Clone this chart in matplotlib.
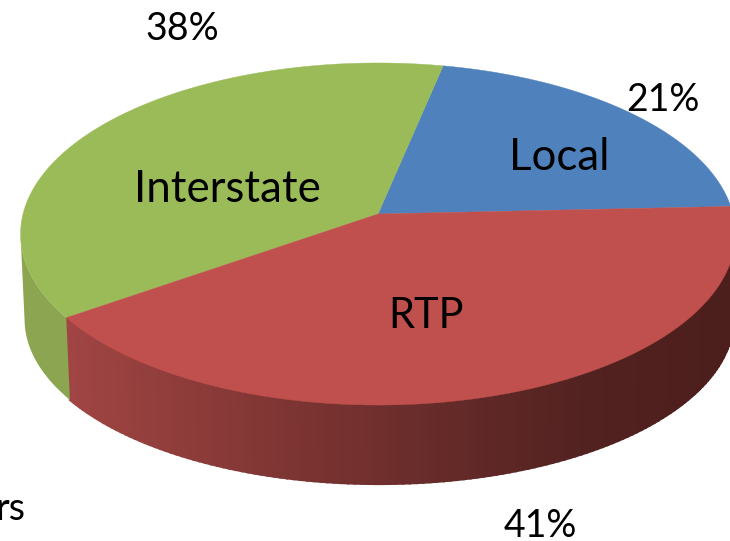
import numpy as np
import matplotlib
matplotlib.use("Agg")
import matplotlib.pyplot as plt
from matplotlib.colors import LinearSegmentedColormap

# pie data
names = ["Local", "Interstate", "RTP"]
shares = [21, 38, 41]
colors = ["#4f81bd", "#9bbb59", "#c0504d"]
side_green = "#8ba550"

plt.rcParams["font.family"] = ["Lato", "DejaVu Sans"]

cx, cy = 378, 214
rx, ry = 355, 168.7
k = 0.117
start = 2.6
cx2, cy2 = 379, 300   # bottom plane
rx2, ry2 = 352, 162.5


def top(t):
    t = np.radians(t)
    d = 1 + k * np.sin(t)
    return cx + rx * np.cos(t) / d, cy - ry * np.sin(t) / d


def bottom(t):
    t = np.radians(t)
    d = 1 + k * np.sin(t)
    return cx2 + rx2 * np.cos(t) / d, cy2 - ry2 * np.sin(t) / d


fig = plt.figure(figsize=(7.3, 5.41), dpi=100)
ax = fig.add_axes([0, 0, 1, 1])
ax.set_xlim(0, 730)
ax.set_ylim(541, 0)
ax.axis("off")

angles = start + np.cumsum([0] + shares) * 3.6

# side walls, red one shaded from left to right
red_side = LinearSegmentedColormap.from_list(
    "red_side",
    [(0.0, "#a04543"), (0.35, "#7c3432"), (0.6, "#632a28"), (0.8, "#522220"), (1.0, "#4c1e1c")],
)
a = np.linspace(angles[2], angles[3], 150)
for i in range(len(a) - 1):
    t = np.linspace(a[i], a[i + 1], 3)
    x1, y1 = top(t)
    x2, y2 = bottom(t[::-1])
    c = red_side((x1.mean() - 70) / 650)
    ax.fill(np.r_[x1, x2], np.r_[y1, y2], color=c, lw=1.5, zorder=1)

t = np.linspace(187, angles[2], 40)
x1, y1 = top(t)
x2, y2 = bottom(t[::-1])
ax.fill(np.r_[x1, x2], np.r_[y1, y2], color=side_green, lw=0, zorder=1.5)

# top of the pie
for i in range(len(shares)):
    t = np.linspace(angles[i], angles[i + 1], 120)
    x, y = top(t)
    ax.fill(np.r_[cx, x], np.r_[cy, y], color=colors[i], lw=0.3, zorder=2)

# labels
ax.text(559, 170, "Local", fontsize=31.5, ha="center", va="baseline", color="black", zorder=3)
ax.text(227, 202, "Interstate", fontsize=31.5, ha="center", va="baseline", color="black", zorder=3)
ax.text(426, 328, "RTP", fontsize=30, ha="center", va="baseline", color="black", zorder=3)
ax.text(182, 40, "38%", fontsize=27, ha="center", va="baseline", color="black", zorder=3)
ax.text(663, 111, "21%", fontsize=27, ha="center", va="baseline", color="black", zorder=3)
ax.text(540, 537, "41%", fontsize=27, ha="center", va="baseline", color="black", zorder=3)
ax.text(25, 520, "rs", fontsize=27, ha="right", va="baseline", color="black", zorder=3)

fig.savefig("out.png", dpi=100)
